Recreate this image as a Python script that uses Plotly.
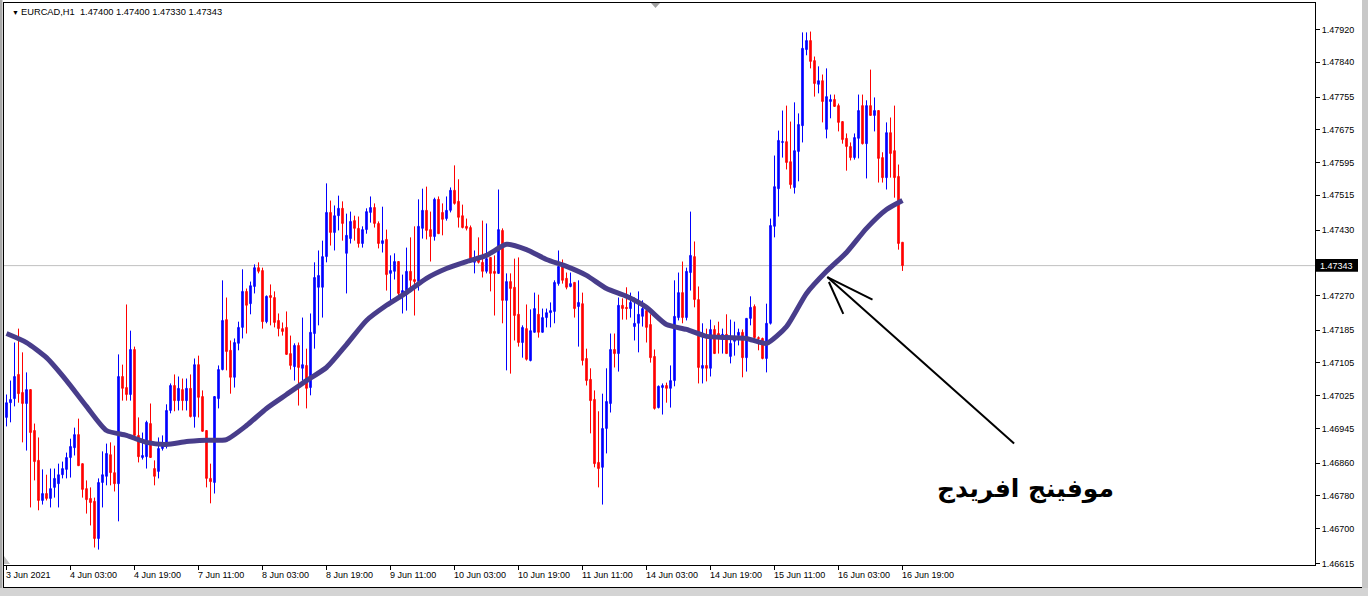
import plotly.graph_objects as go

# ---------------- data (EURCAD H1) ----------------
opens = [1.46972,1.47008,1.47018,1.47077,1.47033,1.47006,1.47040,1.46940,1.46867,1.46769,
1.46786,1.46774,1.46801,1.46810,1.46832,1.46845,1.46874,1.46898,1.46930,1.46859,
1.46798,1.46774,1.46767,1.46676,1.46813,1.46828,1.46881,1.46837,1.46810,1.47072,
1.47045,1.47028,1.47138,1.46928,1.46874,1.46876,1.46957,1.46847,1.46840,1.46896,
1.46908,1.46989,1.47050,1.47013,1.47040,1.47013,1.47043,1.46974,1.47101,1.47023,
1.46940,1.46823,1.46813,1.47018,1.47089,1.47211,1.47136,1.47070,1.47153,1.47192,
1.47280,1.47250,1.47292,1.47338,1.47331,1.47206,1.47270,1.47265,1.47209,1.47189,
1.47192,1.47128,1.47096,1.47148,1.47092,1.47099,1.47045,1.47177,1.47290,1.47290,
1.47365,1.47473,1.47424,1.47465,1.47483,1.47373,1.47409,1.47453,1.47434,1.47397,
1.47431,1.47473,1.47485,1.47446,1.47397,1.47407,1.47324,1.47329,1.47353,1.47275,
1.47282,1.47329,1.47309,1.47304,1.47434,1.47478,1.47431,1.47414,1.47505,1.47473,
1.47458,1.47478,1.47527,1.47500,1.47465,1.47439,1.47436,1.47351,1.47360,1.47351,
1.47329,1.47363,1.47329,1.47324,1.47429,1.47258,1.47304,1.47290,1.47224,1.47155,
1.47189,1.47111,1.47180,1.47224,1.47180,1.47216,1.47228,1.47231,1.47299,1.47341,
1.47312,1.47292,1.47302,1.47243,1.47250,1.47116,1.47065,1.47016,1.46862,1.46850,
1.46945,1.47006,1.47138,1.47128,1.47246,1.47241,1.47238,1.47194,1.47202,1.47219,
1.47233,1.47199,1.47121,1.46996,1.47045,1.47050,1.47043,1.47062,1.47216,1.47277,
1.47216,1.47326,1.47365,1.47260,1.47092,1.47099,1.47092,1.47187,1.47177,1.47170,
1.47175,1.47121,1.47158,1.47172,1.47180,1.47118,1.47214,1.47243,1.47167,1.47165,
1.47116,1.47202,1.47439,1.47531,1.47644,1.47646,1.47597,1.47534,1.47622,1.47685,
1.47871,1.47893,1.47844,1.47786,1.47795,1.47676,1.47744,1.47749,1.47734,1.47695,
1.47654,1.47634,1.47607,1.47654,1.47734,1.47641,1.47734,1.47710,1.47722,1.47607,
1.47558,1.47668,1.47624,1.47561,1.47400]

highs = [1.47028,1.47062,1.47155,1.47189,1.47131,1.47082,1.47040,1.46957,1.46923,1.46845,
1.46832,1.46847,1.46847,1.46859,1.46864,1.46886,1.46920,1.46947,1.46969,1.46859,
1.46818,1.46801,1.46776,1.46823,1.46889,1.46908,1.46911,1.46903,1.47126,1.47101,
1.47248,1.47184,1.47145,1.46972,1.46935,1.46964,1.47006,1.46867,1.46923,1.46928,
1.47004,1.47055,1.47077,1.47072,1.47067,1.47067,1.47077,1.47116,1.47123,1.47038,
1.46940,1.46859,1.47023,1.47099,1.47307,1.47265,1.47160,1.47165,1.47206,1.47334,
1.47287,1.47304,1.47346,1.47351,1.47338,1.47270,1.47297,1.47280,1.47226,1.47204,
1.47231,1.47172,1.47153,1.47155,1.47216,1.47140,1.47226,1.47351,1.47380,1.47404,
1.47544,1.47502,1.47490,1.47514,1.47500,1.47470,1.47475,1.47465,1.47463,1.47439,
1.47483,1.47512,1.47495,1.47451,1.47487,1.47431,1.47368,1.47373,1.47353,1.47321,
1.47387,1.47412,1.47439,1.47505,1.47531,1.47536,1.47475,1.47509,1.47512,1.47495,
1.47512,1.47534,1.47588,1.47554,1.47492,1.47458,1.47441,1.47380,1.47412,1.47453,
1.47446,1.47363,1.47368,1.47529,1.47434,1.47324,1.47324,1.47360,1.47363,1.47197,
1.47248,1.47236,1.47277,1.47272,1.47238,1.47238,1.47253,1.47307,1.47380,1.47358,
1.47326,1.47326,1.47302,1.47307,1.47277,1.47140,1.47092,1.47038,1.46987,1.47030,
1.47092,1.47177,1.47177,1.47265,1.47263,1.47290,1.47277,1.47265,1.47280,1.47258,
1.47238,1.47224,1.47138,1.47050,1.47055,1.47057,1.47099,1.47307,1.47326,1.47353,
1.47338,1.47475,1.47402,1.47292,1.47202,1.47189,1.47211,1.47197,1.47206,1.47189,
1.47224,1.47211,1.47206,1.47189,1.47187,1.47214,1.47268,1.47248,1.47170,1.47167,
1.47250,1.47458,1.47612,1.47673,1.47722,1.47734,1.47695,1.47742,1.47715,1.47913,
1.47913,1.47915,1.47854,1.47830,1.47810,1.47825,1.47761,1.47761,1.47739,1.47695,
1.47666,1.47644,1.47666,1.47761,1.47761,1.47747,1.47822,1.47754,1.47722,1.47620,
1.47693,1.47705,1.47734,1.47590,1.47400]

lows = [1.46950,1.46960,1.46999,1.47008,1.46911,1.46891,1.46752,1.46818,1.46745,1.46759,
1.46769,1.46752,1.46776,1.46752,1.46823,1.46823,1.46825,1.46879,1.46854,1.46776,
1.46737,1.46708,1.46654,1.46649,1.46752,1.46806,1.46806,1.46791,1.46718,1.47013,
1.47013,1.47013,1.46923,1.46862,1.46869,1.46847,1.46874,1.46806,1.46823,1.46891,
1.46896,1.46982,1.46987,1.46989,1.46989,1.46989,1.46972,1.46947,1.46972,1.46938,
1.46801,1.46762,1.46786,1.46994,1.47087,1.47087,1.47030,1.47045,1.47136,1.47165,
1.47177,1.47224,1.47275,1.47324,1.47189,1.47202,1.47197,1.47192,1.47170,1.47172,
1.47126,1.47089,1.47062,1.47001,1.47062,1.46994,1.47026,1.47140,1.47197,1.47216,
1.47351,1.47392,1.47380,1.47429,1.47404,1.47275,1.47397,1.47404,1.47387,1.47387,
1.47421,1.47448,1.47436,1.47385,1.47375,1.47282,1.47253,1.47309,1.47265,1.47226,
1.47233,1.47287,1.47221,1.47282,1.47409,1.47407,1.47353,1.47404,1.47421,1.47417,
1.47453,1.47473,1.47492,1.47436,1.47434,1.47429,1.47351,1.47324,1.47348,1.47314,
1.47324,1.47280,1.47221,1.47324,1.47202,1.47087,1.47079,1.47160,1.47145,1.47118,
1.47111,1.47109,1.47180,1.47167,1.47180,1.47192,1.47192,1.47202,1.47294,1.47299,
1.47285,1.47290,1.47216,1.47145,1.47099,1.47050,1.46933,1.46850,1.46801,1.46759,
1.46884,1.46984,1.47094,1.47084,1.47211,1.47211,1.47216,1.47160,1.47131,1.47194,
1.47155,1.47106,1.46991,1.46994,1.46979,1.47008,1.46996,1.47048,1.47209,1.47202,
1.47209,1.47282,1.47241,1.47055,1.47055,1.47060,1.47072,1.47128,1.47128,1.47128,
1.47128,1.47104,1.47123,1.47148,1.47070,1.47084,1.47197,1.47162,1.47136,1.47114,
1.47082,1.47199,1.47412,1.47463,1.47607,1.47578,1.47531,1.47519,1.47549,1.47644,
1.47857,1.47825,1.47756,1.47764,1.47693,1.47654,1.47703,1.47732,1.47671,1.47641,
1.47575,1.47600,1.47602,1.47605,1.47639,1.47556,1.47710,1.47671,1.47546,1.47546,
1.47529,1.47558,1.47509,1.47382,1.47330]

closes = [1.47008,1.47016,1.47072,1.47030,1.47006,1.47040,1.46935,1.46864,1.46769,1.46786,
1.46774,1.46798,1.46823,1.46832,1.46847,1.46874,1.46901,1.46930,1.46854,1.46796,
1.46771,1.46764,1.46676,1.46813,1.46832,1.46884,1.46837,1.46810,1.47072,1.47043,
1.47028,1.47138,1.46928,1.46876,1.46879,1.46960,1.46874,1.46828,1.46896,1.46908,
1.46989,1.47050,1.47013,1.47043,1.47013,1.47043,1.46974,1.47101,1.47021,1.46938,
1.46823,1.46815,1.47023,1.47089,1.47209,1.47133,1.47070,1.47155,1.47192,1.47280,
1.47246,1.47294,1.47338,1.47329,1.47206,1.47268,1.47265,1.47204,1.47189,1.47182,
1.47126,1.47099,1.47148,1.47094,1.47101,1.47043,1.47180,1.47314,1.47319,1.47365,
1.47473,1.47424,1.47465,1.47483,1.47446,1.47417,1.47451,1.47434,1.47397,1.47431,
1.47475,1.47485,1.47446,1.47397,1.47404,1.47321,1.47331,1.47353,1.47275,1.47282,
1.47329,1.47307,1.47304,1.47439,1.47478,1.47429,1.47414,1.47505,1.47421,1.47456,
1.47478,1.47527,1.47495,1.47461,1.47436,1.47434,1.47356,1.47360,1.47351,1.47329,
1.47360,1.47324,1.47324,1.47431,1.47258,1.47304,1.47287,1.47221,1.47155,1.47192,
1.47114,1.47184,1.47238,1.47180,1.47216,1.47228,1.47233,1.47302,1.47341,1.47307,
1.47290,1.47299,1.47238,1.47253,1.47111,1.47062,1.47013,1.46859,1.46847,1.46945,
1.47011,1.47138,1.47128,1.47246,1.47238,1.47238,1.47253,1.47202,1.47224,1.47238,
1.47192,1.47118,1.46994,1.47048,1.47050,1.47043,1.47062,1.47219,1.47277,1.47216,
1.47329,1.47368,1.47260,1.47094,1.47099,1.47092,1.47187,1.47128,1.47172,1.47175,
1.47128,1.47153,1.47162,1.47180,1.47118,1.47214,1.47241,1.47167,1.47165,1.47116,
1.47202,1.47441,1.47536,1.47649,1.47646,1.47595,1.47541,1.47624,1.47688,1.47874,
1.47893,1.47842,1.47788,1.47795,1.47744,1.47756,1.47749,1.47732,1.47693,1.47651,
1.47634,1.47607,1.47656,1.47722,1.47641,1.47734,1.47710,1.47722,1.47605,1.47558,
1.47668,1.47617,1.47558,1.47397,1.47343]

# moving average read every 5 bars
ma_bars = [0,5,10,15,20,25,30,35,40,45,50,55,60,65,70,75,80,85,90,95,100,105,110,115,
           120,125,130,135,140,145,150,155,160,165,170,175,180,185,190,195,200,205,210,
           215,220,224]
ma_values = [1.47177,1.47155,1.47118,1.47062,1.46999,1.46940,1.46928,1.46911,1.46906,1.46913,
             1.46916,1.46918,1.46952,1.46994,1.47028,1.47062,1.47094,1.47150,1.47209,1.47246,
             1.47277,1.47312,1.47336,1.47353,1.47368,1.47395,1.47382,1.47358,1.47341,1.47319,
             1.47287,1.47268,1.47241,1.47199,1.47187,1.47170,1.47167,1.47165,1.47153,1.47194,
             1.47275,1.47329,1.47375,1.47434,1.47480,1.47502]

time_label_bars = [0,16,32,48,64,80,96,112,128,144,160,176,192,208,224]
time_labels = ["3 Jun 2021","4 Jun 03:00","4 Jun 19:00","7 Jun 11:00","8 Jun 03:00",
               "8 Jun 19:00","9 Jun 11:00","10 Jun 03:00","10 Jun 19:00","11 Jun 11:00",
               "14 Jun 03:00","14 Jun 19:00","15 Jun 11:00","16 Jun 03:00","16 Jun 19:00"]

price_ticks = [1.47920,1.47840,1.47755,1.47675,1.47595,1.47515,1.47430,1.47350,1.47270,
               1.47185,1.47105,1.47025,1.46945,1.46860,1.46780,1.46700,1.46615]

last_price = 1.47343
title_text = "EURCAD,H1  1.47400 1.47400 1.47330 1.47343"
label_text = "موفينج افريدج"

FONT = "Liberation Sans, Arial, sans-serif"
bars = list(range(len(closes)))

fig = go.Figure()
fig.add_trace(go.Candlestick(
    x=bars, open=opens, high=highs, low=lows, close=closes,
    increasing=dict(line=dict(color="#0000ff", width=1), fillcolor="#0000ff"),
    decreasing=dict(line=dict(color="#ff0000", width=1), fillcolor="#ff0000"),
    whiskerwidth=0, hoverinfo="skip", showlegend=False))
fig.add_trace(go.Scatter(
    x=ma_bars, y=ma_values, mode="lines",
    line=dict(color="#483d8b", width=5, shape="spline", smoothing=0.6),
    hoverinfo="skip", showlegend=False))

shapes = []
# current price line
shapes.append(dict(type="line", xref="paper", yref="y", x0=0, x1=1, y0=last_price, y1=last_price,
                   line=dict(color="#c0c0c0", width=1), layer="below"))
# arrow (drawn object on the chart)
arrow = dict(color="black", width=2)
shapes.append(dict(type="line", xref="x", yref="y", x0=251.9, y0=1.46908, x1=205.2, y1=1.47315, line=arrow))
shapes.append(dict(type="line", xref="x", yref="y", x0=205.2, y0=1.47315, x1=216.5, y1=1.47260, line=arrow))
shapes.append(dict(type="line", xref="x", yref="y", x0=205.6, y0=1.47303, x1=209.2, y1=1.47225, line=arrow))

# window geometry helpers (pixel -> paper)
W, PW, PH, L, T = 1368, 1311, 562, 4, 3
def px(xp): return (xp - L) / PW
def py(yp): return (T + PH - yp) / PH

# price box
shapes.append(dict(type="rect", xref="paper", yref="y", x0=px(1316), x1=px(1358),
                   y0=last_price - 0.00015, y1=last_price + 0.00016,
                   fillcolor="black", line=dict(width=0)))
gray = "#a9a9a9"
shapes.append(dict(type="rect", xref="paper", yref="paper", x0=px(0), x1=px(2.5), y0=py(596), y1=py(0),
                   fillcolor=gray, line=dict(width=0)))
shapes.append(dict(type="rect", xref="paper", yref="paper", x0=px(1362), x1=px(1368), y0=py(596), y1=py(0),
                   fillcolor="#c8c8c8", line=dict(width=0)))
shapes.append(dict(type="rect", xref="paper", yref="paper", x0=px(0), x1=px(1368), y0=py(596), y1=py(588),
                   fillcolor="#d4d4d4", line=dict(width=0)))
shapes.append(dict(type="line", xref="paper", yref="paper", x0=px(3.5), x1=px(3.5), y0=py(565), y1=py(587.5),
                   line=dict(color="black", width=1)))
shapes.append(dict(type="line", xref="paper", yref="paper", x0=px(3), x1=px(1362), y0=py(587.5), y1=py(587.5),
                   line=dict(color="black", width=1)))
# chart-shift markers
shapes.append(dict(type="path", xref="paper", yref="paper",
                   path=f"M {px(651)} {py(3)} L {px(660)} {py(3)} L {px(655.5)} {py(8)} Z",
                   fillcolor="#a0a0a0", line=dict(width=0)))
shapes.append(dict(type="path", xref="paper", yref="paper",
                   path=f"M {px(4)} {py(556)} L {px(4)} {py(564)} L {px(10)} {py(564)} Z",
                   fillcolor="#c0c0c0", line=dict(width=0)))

annotations = []
annotations.append(dict(xref="paper", yref="paper", x=0, y=1, xanchor="left", yanchor="middle",
                        xshift=6, yshift=-9, text="▼", showarrow=False,
                        font=dict(family=FONT, size=7, color="black")))
annotations.append(dict(xref="paper", yref="paper", x=0, y=1, xanchor="left", yanchor="middle",
                        xshift=15, yshift=-9, text=title_text, showarrow=False,
                        font=dict(family=FONT, size=9.3, color="black")))
for b, t in zip(time_label_bars, time_labels):
    annotations.append(dict(xref="x", yref="paper", x=b, y=0, xanchor="left", yanchor="top",
                            xshift=-3, yshift=-3, text=t, showarrow=False,
                            font=dict(family=FONT, size=9, color="black")))
annotations.append(dict(xref="paper", yref="y", x=1, y=last_price, xanchor="left", yanchor="middle",
                        xshift=3, text=f"{last_price:.5f}", showarrow=False,
                        font=dict(family=FONT, size=9, color="white")))
annotations.append(dict(xref="x", yref="y", x=254.8, y=1.46796, xanchor="center", yanchor="middle",
                        text=f"<b>{label_text}</b>", showarrow=False,
                        font=dict(family="DejaVu Sans", size=25, color="black")))

# the 1.47350 label sits under the current-price box in the reference
tick_text = ["" if abs(v - 1.47350) < 1e-9 else f"{v:.5f}" for v in price_ticks]

fig.update_layout(
    width=1368, height=596, autosize=False,
    margin=dict(l=L, r=W - L - PW, t=T, b=596 - T - PH, pad=0),
    paper_bgcolor="white", plot_bgcolor="white",
    showlegend=False, boxgap=0.45,
    shapes=shapes, annotations=annotations,
    xaxis=dict(range=[-0.625, 327.125], showgrid=False, zeroline=False,
               showline=True, mirror=True, linecolor="black", linewidth=1,
               ticks="outside", ticklen=4, tickcolor="black", tickvals=time_label_bars,
               showticklabels=False, rangeslider=dict(visible=False), fixedrange=True),
    yaxis=dict(side="right", range=[1.466113, 1.479848], showgrid=False, zeroline=False,
               showline=True, mirror=True, linecolor="black", linewidth=1,
               ticks="outside", ticklen=4, tickcolor="black",
               tickvals=price_ticks, ticktext=tick_text,
               tickfont=dict(family=FONT, size=9, color="black"), fixedrange=True),
)

fig.write_html("out.html", config={"displayModeBar": False},
               post_script="document.body.style.margin='0';document.body.style.padding='0';")
